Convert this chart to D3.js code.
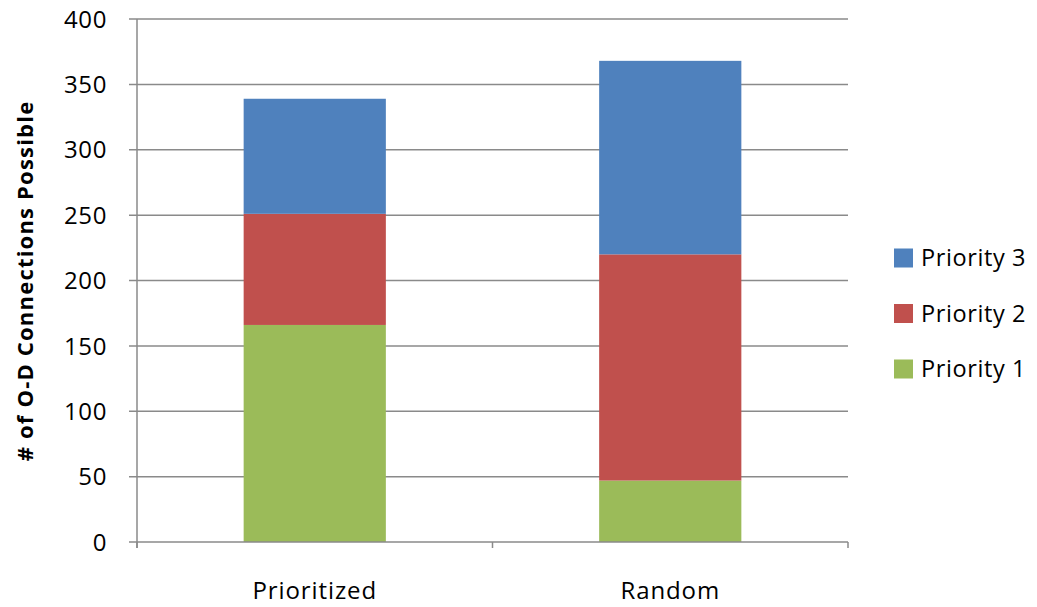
<!DOCTYPE html>
<html>
<head>
<meta charset="utf-8">
<script src="https://cdn.jsdelivr.net/npm/d3@7"></script>
<style>
  html, body { margin: 0; padding: 0; background: #fff; }
  text { font-family: "Open Sans", "Noto Sans", sans-serif; }
</style>
</head>
<body>
<svg id="chart" width="1037" height="607"></svg>
<script>
const categories = ["Prioritized", "Random"];
const seriesNames = ["Priority 1", "Priority 2", "Priority 3"];
const priority1 = [166, 47];
const priority2 = [85, 173];
const priority3 = [88, 148];
const colors = ["#9BBB59", "#C0504D", "#4F81BD"];
const yTicks = [0, 50, 100, 150, 200, 250, 300, 350, 400];
const yTitle = "# of O-D Connections Possible";

const svg = d3.select("#chart");
const margin = { left: 137, right: 1037 - 848, top: 19, bottom: 607 - 542 };
const W = 1037, H = 607;

const x = d3.scaleBand().domain(categories).range([margin.left, W - margin.right]).padding(0);
const y = d3.scaleLinear().domain([0, 400]).range([H - margin.bottom, margin.top]);

const rows = categories.map((c, i) => ({ cat: c, "Priority 1": priority1[i], "Priority 2": priority2[i], "Priority 3": priority3[i] }));
const stacked = d3.stack().keys(seriesNames)(rows);

const gridColor = "#8a8a8a";

// gridlines
svg.append("g").selectAll("line").data(yTicks.filter(d => d > 0)).join("line")
  .attr("x1", margin.left - 8).attr("x2", W - margin.right)
  .attr("y1", d => y(d)).attr("y2", d => y(d))
  .attr("stroke", gridColor).attr("stroke-width", 1.5);

// bars
const barFrac = 0.4;
svg.append("g").selectAll("g").data(stacked).join("g")
  .attr("fill", (d, i) => colors[i])
  .selectAll("rect").data(d => d).join("rect")
  .attr("x", d => x(d.data.cat) + x.bandwidth() * (1 - barFrac) / 2)
  .attr("width", x.bandwidth() * barFrac)
  .attr("y", d => y(d[1]))
  .attr("height", d => y(d[0]) - y(d[1]));

// y axis line
svg.append("line")
  .attr("x1", margin.left).attr("x2", margin.left)
  .attr("y1", y(400)).attr("y2", y(0) + 6)
  .attr("stroke", gridColor).attr("stroke-width", 1.5);

// x axis line
svg.append("line")
  .attr("x1", margin.left - 8).attr("x2", W - margin.right)
  .attr("y1", y(0)).attr("y2", y(0))
  .attr("stroke", gridColor).attr("stroke-width", 1.5);

// x tick marks at band boundaries
const xBounds = categories.map(c => x(c)).concat([x(categories[categories.length - 1]) + x.bandwidth()]);
svg.append("g").selectAll("line").data(xBounds).join("line")
  .attr("x1", d => d).attr("x2", d => d)
  .attr("y1", y(0)).attr("y2", y(0) + 6)
  .attr("stroke", gridColor).attr("stroke-width", 1.5);

// y tick labels
svg.append("g").selectAll("text").data(yTicks).join("text")
  .attr("x", 107).attr("y", d => y(d))
  .attr("dy", "0.36em")
  .attr("text-anchor", "end")
  .attr("font-size", 24)
  .attr("letter-spacing", 0.6)
  .attr("fill", "#000")
  .text(d => d);

// x labels
svg.append("g").selectAll("text").data(categories).join("text")
  .attr("x", d => x(d) + x.bandwidth() / 2)
  .attr("y", 599)
  .attr("text-anchor", "middle")
  .attr("font-size", 24)
  .attr("letter-spacing", 0.9)
  .attr("fill", "#000")
  .text(d => d);

// y title
svg.append("text")
  .attr("transform", `translate(33, 281) rotate(-90)`)
  .attr("text-anchor", "middle")
  .attr("font-size", 22)
  .attr("font-weight", "bold")
  .attr("letter-spacing", 1.2)
  .attr("fill", "#000")
  .text(yTitle);

// legend (reverse order)
const legendItems = seriesNames.map((s, i) => ({ name: s, color: colors[i] })).reverse();
const lg = svg.append("g").selectAll("g").data(legendItems).join("g")
  .attr("transform", (d, i) => `translate(894, ${258 + i * 55.5})`);
lg.append("rect").attr("x", 0).attr("y", -9.5).attr("width", 19).attr("height", 19).attr("fill", d => d.color);
lg.append("text").attr("x", 27).attr("y", 0).attr("dy", "0.36em")
  .attr("font-size", 23.5).attr("letter-spacing", 0.6).attr("fill", "#000").text(d => d.name);
</script>
</body>
</html>
